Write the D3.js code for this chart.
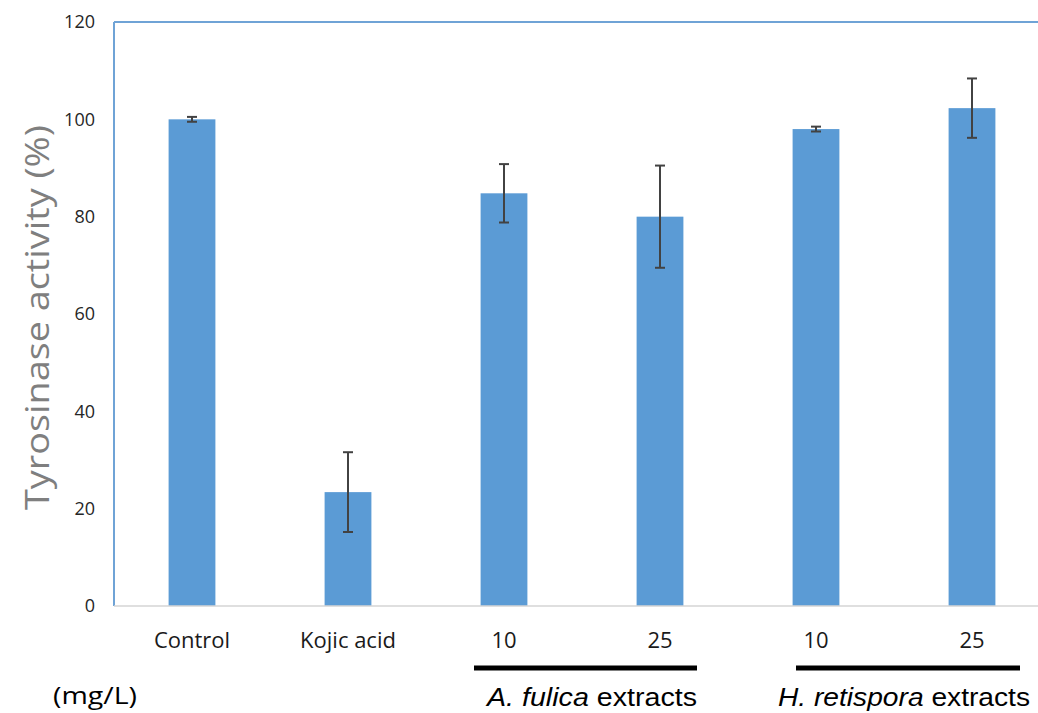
<!DOCTYPE html>
<html>
<head>
<meta charset="utf-8">
<script src="https://cdn.jsdelivr.net/npm/d3@7/dist/d3.min.js"></script>
<style>
  html, body { margin: 0; padding: 0; background: #fff; }
  svg { display: block; }
</style>
</head>
<body>
<svg id="chart" width="1038" height="713"></svg>
<script>
// ---- data ----
const categories = ["Control", "Kojic acid", "10 (A)", "25 (A)", "10 (H)", "25 (H)"];
const categoryLabels = ["Control", "Kojic acid", "10", "25", "10", "25"];
const values = [100, 23.4, 84.8, 80.0, 98.0, 102.3];
const errors = [0.5, 8.2, 6.0, 10.5, 0.5, 6.1];
const yTicks = [0, 20, 40, 60, 80, 100, 120];
const groupItalic = ["A. fulica", "H. retispora"];
const groupSuffix = [" extracts", " extracts"];
const groupMembers = [["10 (A)", "25 (A)"], ["10 (H)", "25 (H)"]];
const unitLabel = "(mg/L)";
const yTitle = "Tyrosinase activity (%)";

(function () {
// ---- layout ----
const W = 1038, H = 713;
const pLeft = 114, pTop = 22, pBottom = 606, pRightEnd = 1050;
const svg = d3.select("#chart");

const y = d3.scaleLinear().domain([0, 120]).range([pBottom, pTop]);
const x = d3.scaleBand().domain(categories).range([pLeft, pRightEnd])
  .paddingInner(0.7).paddingOuter(0.35);

// plot frame: light blue left and top lines
svg.append("line").attr("x1", pLeft).attr("x2", W).attr("y1", pTop).attr("y2", pTop)
  .attr("stroke", "#6fa3d6").attr("stroke-width", 2);
svg.append("line").attr("x1", pLeft).attr("x2", pLeft).attr("y1", pTop).attr("y2", pBottom)
  .attr("stroke", "#6fa3d6").attr("stroke-width", 2);

// y axis tick labels via d3 axis
const yAxis = svg.append("g").attr("transform", `translate(${pLeft},0)`)
  .call(d3.axisLeft(y).tickValues(yTicks).tickSize(0).tickPadding(19));
yAxis.select(".domain").remove();
yAxis.selectAll("text")
  .attr("font-family", "'Open Sans', sans-serif")
  .attr("font-size", 18)
  .attr("fill", "#262626");

// bars
svg.append("g").selectAll("rect").data(categories).join("rect")
  .attr("x", d => x(d))
  .attr("width", x.bandwidth())
  .attr("y", (d, i) => y(values[i]))
  .attr("height", (d, i) => y(0) - y(values[i]))
  .attr("fill", "#5b9bd5");

// baseline
svg.append("line").attr("x1", pLeft).attr("x2", W).attr("y1", pBottom).attr("y2", pBottom)
  .attr("stroke", "#d4d4d4").attr("stroke-width", 1.5);

// error bars
const eg = svg.append("g").attr("stroke", "#424242").attr("stroke-width", 2);
categories.forEach((c, i) => {
  const cx = x(c) + x.bandwidth() / 2;
  const hi = y(values[i] + errors[i]), lo = y(values[i] - errors[i]);
  eg.append("line").attr("x1", cx).attr("x2", cx).attr("y1", hi).attr("y2", lo);
  eg.append("line").attr("x1", cx - 5).attr("x2", cx + 5).attr("y1", hi).attr("y2", hi);
  eg.append("line").attr("x1", cx - 5).attr("x2", cx + 5).attr("y1", lo).attr("y2", lo);
});

// category labels
svg.append("g").selectAll("text").data(categories).join("text")
  .attr("x", d => x(d) + x.bandwidth() / 2)
  .attr("y", 648)
  .attr("text-anchor", "middle")
  .attr("font-family", "'Open Sans', sans-serif")
  .attr("font-size", 22)
  .attr("fill", "#1a1a1a")
  .text((d, i) => categoryLabels[i]);

// group underlines and labels
const lineOffsets = [[-30, 37], [-20, 48]];
const labelLefts = [487, 778];
const labelWidths = [210, 252];
groupMembers.forEach((g, gi) => {
  const x1 = x(g[0]) + x.bandwidth() / 2 + lineOffsets[gi][0];
  const x2 = x(g[g.length - 1]) + x.bandwidth() / 2 + lineOffsets[gi][1];
  svg.append("line").attr("x1", x1).attr("x2", x2).attr("y1", 668).attr("y2", 668)
    .attr("stroke", "#000").attr("stroke-width", 5);
  const t = svg.append("text")
    .attr("x", labelLefts[gi])
    .attr("y", 706)
    .attr("font-family", "'Liberation Sans', Arial, sans-serif")
    .attr("font-size", 25)
    .attr("fill", "#000")
    .attr("textLength", labelWidths[gi])
    .attr("lengthAdjust", "spacingAndGlyphs");
  t.append("tspan").attr("font-style", "italic").text(groupItalic[gi]);
  t.append("tspan").text(groupSuffix[gi]);
});

// unit label
svg.append("text").attr("x", 53).attr("y", 704)
  .attr("font-family", "'Open Sans', sans-serif")
  .attr("font-size", 23)
  .attr("fill", "#000")
  .attr("textLength", 84).attr("lengthAdjust", "spacingAndGlyphs")
  .text(unitLabel);

// y title
svg.append("text")
  .attr("transform", `translate(49,${(125 + 510) / 2}) rotate(-90)`)
  .attr("text-anchor", "middle")
  .attr("font-family", "'Open Sans', sans-serif")
  .attr("font-size", 33)
  .attr("fill", "#7f7f7f")
  .attr("textLength", 385).attr("lengthAdjust", "spacingAndGlyphs")
  .text(yTitle);
})();
</script>
</body>
</html>
